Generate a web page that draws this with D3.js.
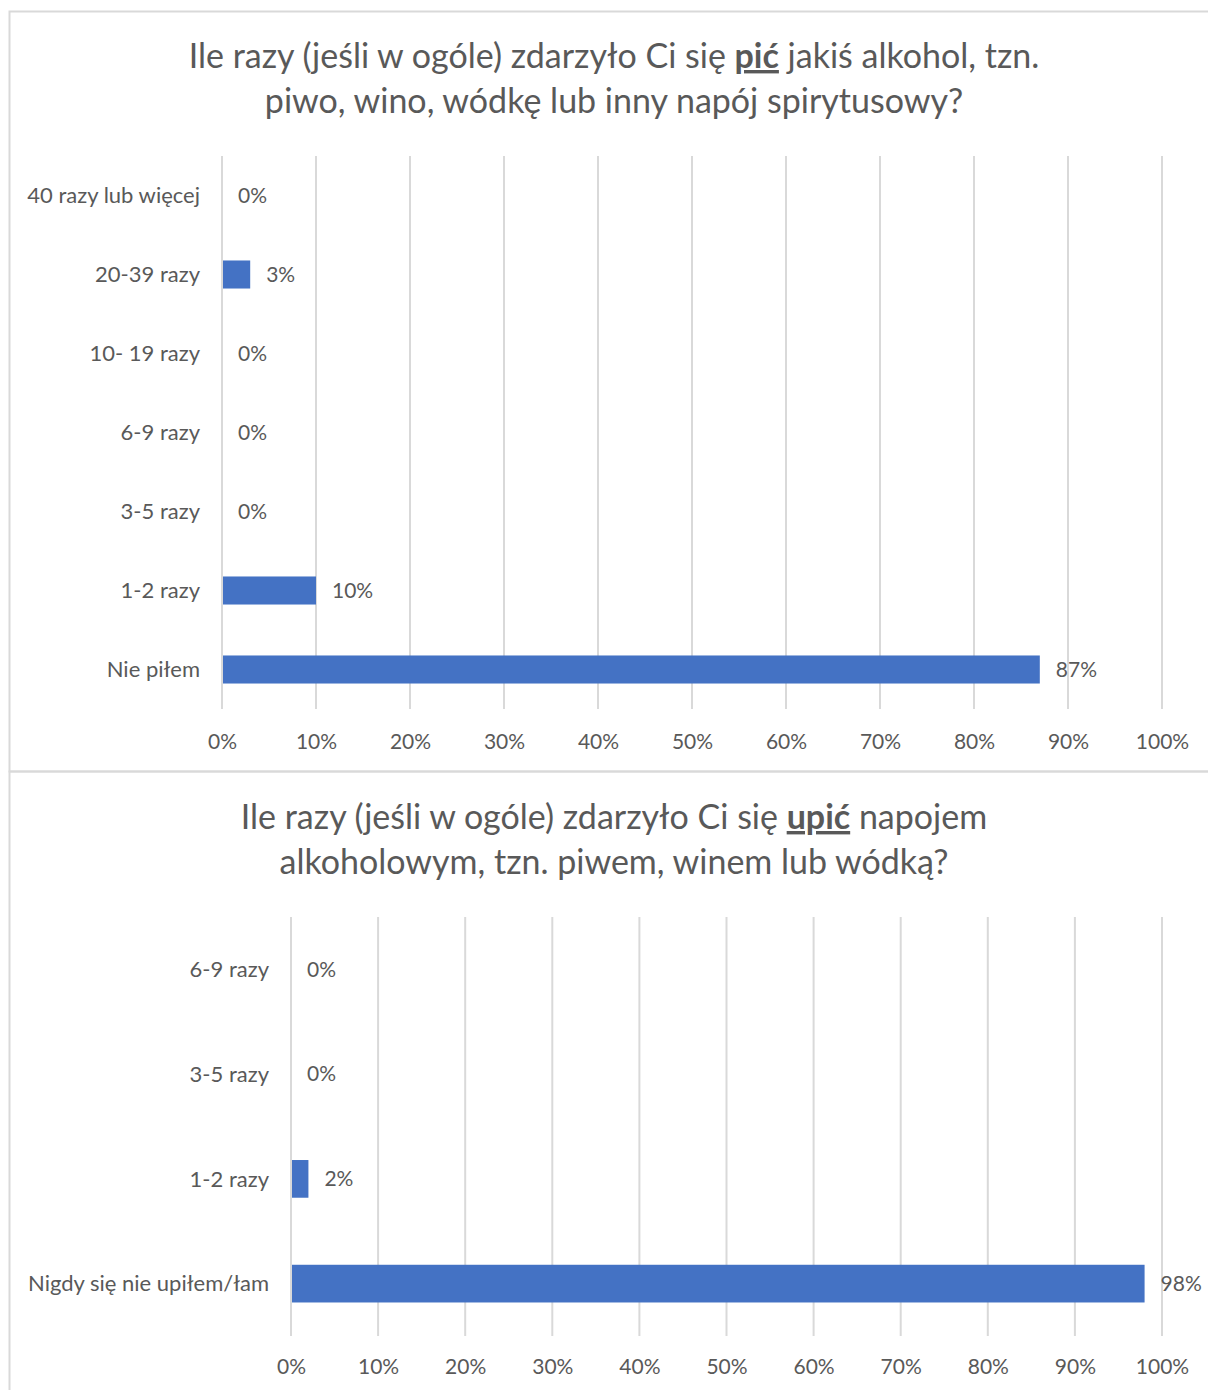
<!DOCTYPE html>
<html><head><meta charset="utf-8">
<script src="https://cdn.jsdelivr.net/npm/d3@7"></script>
<style>body{margin:0;background:#fff}svg{display:block}</style>
</head><body>
<script>
const cats1 = ["40 razy lub więcej","20-39 razy","10- 19 razy","6-9 razy","3-5 razy","1-2 razy","Nie piłem"];
const vals1 = [0,3,0,0,0,10,87];
const cats2 = ["6-9 razy","3-5 razy","1-2 razy","Nigdy się nie upiłem/łam"];
const vals2 = [0,0,2,98];
const ticks = [0,10,20,30,40,50,60,70,80,90,100];
const title1 = [[{t:"Ile razy (jeśli w ogóle) zdarzyło Ci się "},{t:"pić",b:1},{t:" jakiś alkohol, tzn."}],[{t:"piwo, wino, wódkę lub inny napój spirytusowy?"}]];
const title2 = [[{t:"Ile razy (jeśli w ogóle) zdarzyło Ci się "},{t:"upić",b:1},{t:" napojem"}],[{t:"alkoholowym, tzn. piwem, winem lub wódką?"}]];

const W=1208,H=1390;
const FONT="Lato, 'Open Sans', sans-serif";
const TXT="#595959", GRID="#d9d9d9", BAR="#4472c4";
const svg=d3.select("body").append("svg").attr("width",W).attr("height",H);

// chart frames
svg.append("rect").attr("x",9.5).attr("y",11.5).attr("width",W).attr("height",760).attr("fill","none").attr("stroke",GRID).attr("stroke-width",2);
svg.append("rect").attr("x",9.5).attr("y",771.5).attr("width",W).attr("height",H).attr("fill","none").attr("stroke",GRID).attr("stroke-width",2);

function drawChart(cfg){
  const g=svg.append("g");
  const x=d3.scaleLinear().domain([0,100]).range([cfg.x0,cfg.x1]);
  const y=d3.scaleBand().domain(cfg.cats).range([cfg.y0,cfg.y1]).paddingInner(cfg.pad).paddingOuter(cfg.pad/2);
  // title
  cfg.title.forEach((line,i)=>{
    const t=g.append("text").attr("x",614).attr("y",cfg.ty+i*45).attr("text-anchor","middle")
      .attr("font-family",FONT).attr("font-size",34).attr("fill",TXT);
    line.forEach(s=>{const ts=t.append("tspan").text(s.t); if(s.b) ts.attr("font-weight","bold").attr("text-decoration","underline");});
  });
  // grid
  g.append("g").selectAll("line").data(ticks).join("line")
    .attr("x1",d=>x(d)).attr("x2",d=>x(d)).attr("y1",cfg.y0).attr("y2",cfg.y1)
    .attr("stroke",GRID).attr("stroke-width",2);
  // x axis labels
  const ax=g.append("g").attr("transform",`translate(0,${cfg.tickY})`)
    .call(d3.axisBottom(x).tickValues(ticks).tickFormat(d=>d+"%").tickSize(0));
  ax.select(".domain").remove();
  ax.selectAll("text").attr("font-family",FONT).attr("font-size",21).attr("fill",TXT).attr("dy",0);
  // y labels
  const ay=g.append("g").attr("transform",`translate(${cfg.x0-22},0)`)
    .call(d3.axisLeft(y).tickSize(0));
  ay.select(".domain").remove();
  ay.selectAll("text").attr("font-family",FONT).attr("font-size",22).attr("fill",TXT).attr("x",0).attr("dy","0.35em");
  // bars
  const data=cfg.cats.map((c,i)=>({c,v:cfg.vals[i]}));
  g.append("g").selectAll("rect").data(data).join("rect")
    .attr("x",x(0)+1).attr("y",d=>y(d.c)).attr("height",y.bandwidth())
    .attr("width",d=>Math.max(0,x(d.v)-x(0)-1)).attr("fill",BAR);
  g.append("g").selectAll("text").data(data).join("text")
    .attr("x",d=>x(d.v)+16).attr("y",d=>y(d.c)+y.bandwidth()/2).attr("dy","0.35em")
    .attr("font-family",FONT).attr("font-size",21).attr("fill",TXT).text(d=>d.v+"%");
}

drawChart({cats:cats1,vals:vals1,x0:222,x1:1162,y0:156,y1:709,pad:0.645,tickY:746,title:title1,ty:68});
drawChart({cats:cats2,vals:vals2,x0:291,x1:1162,y0:917,y1:1336,pad:0.64,tickY:1371,title:title2,ty:829});
</script>
</body></html>
